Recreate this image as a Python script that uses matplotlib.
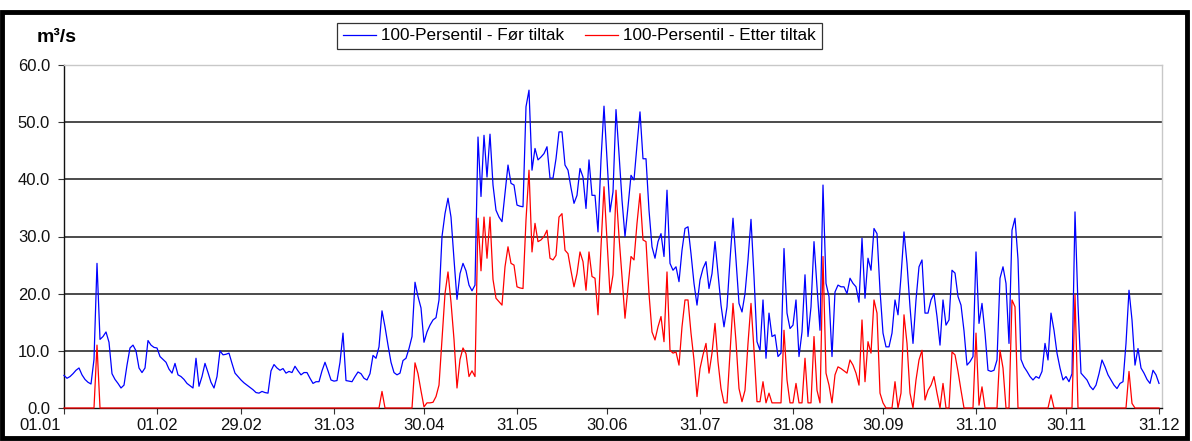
import matplotlib
matplotlib.use("Agg")
import matplotlib.pyplot as plt
from matplotlib.patches import Rectangle
from matplotlib.lines import Line2D
from matplotlib import font_manager
from matplotlib.transforms import ScaledTranslation
import numpy as np

# ---------------- data ----------------
tick_days = [0, 31, 59, 90, 120, 151, 181, 212, 243, 273, 304, 334, 365]
tick_labels = ["01.01", "01.02", "29.02", "31.03", "30.04", "31.05", "30.06",
               "31.07", "31.08", "30.09", "31.10", "30.11", "31.12"]
y_ticks = [0, 10, 20, 30, 40, 50, 60]
series_names = ["100-Persentil - Før tiltak", "100-Persentil - Etter tiltak"]
unit_label = "m³/s"

# daily values (366 days, leap year)
flow_before = [
    5.7, 5.2, 5.5, 6.0, 6.6, 7.0, 5.8, 5.0, 4.5, 4.2,
    8.5, 25.3, 12.0, 12.5, 13.3, 11.5, 6.0, 5.0, 4.3, 3.5,
    4.0, 7.5, 10.5, 11.0, 10.0, 7.0, 6.2, 7.0, 11.8, 11.0,
    10.6, 10.5, 9.0, 8.5, 8.0, 6.8, 6.1, 7.8, 5.8, 5.5,
    5.0, 4.3, 3.9, 3.5, 8.7, 3.8, 5.5, 7.8, 6.2, 4.5,
    3.5, 5.5, 10.0, 9.3, 9.4, 9.6, 7.8, 6.1, 5.5, 4.9,
    4.4, 4.0, 3.6, 3.2, 2.7, 2.6, 2.9, 2.7, 2.6, 6.5,
    7.6, 7.0, 6.6, 6.9, 6.1, 6.4, 6.2, 7.3, 6.5, 5.8,
    6.2, 6.2, 5.2, 4.3, 4.6, 4.6, 6.5, 8.0, 6.5, 4.9,
    4.7, 4.8, 8.0, 13.1, 4.8, 4.7, 4.6, 5.5, 6.3, 6.0,
    5.2, 4.9, 6.0, 9.2, 8.7, 10.7, 17.0, 14.2, 11.0, 8.0,
    6.2, 5.8, 6.1, 8.3, 8.7, 10.4, 12.5, 22.0, 19.5, 17.5,
    11.5, 13.3, 14.5, 15.4, 15.8, 18.9, 30.0, 34.0, 36.7, 33.4,
    26.0, 19.0, 23.5, 25.3, 24.0, 21.5, 20.5, 21.5, 47.4, 37.0,
    47.7, 40.4, 47.9, 39.0, 34.6, 33.4, 32.6, 37.5, 42.5, 39.3,
    39.0, 35.5, 35.3, 35.2, 52.7, 55.6, 41.6, 45.4, 43.4, 43.9,
    44.5, 45.7, 40.2, 40.2, 43.6, 48.3, 48.3, 42.5, 41.6, 38.5,
    35.8, 37.2, 41.9, 40.4, 34.9, 43.4, 37.2, 37.2, 30.8, 43.4,
    52.8, 43.4, 34.3, 37.8, 52.2, 44.5, 36.4, 30.0, 35.2, 40.7,
    39.9, 46.0, 51.8, 43.6, 43.6, 34.6, 28.2, 26.2, 29.1, 30.5,
    26.5, 38.1, 25.3, 24.1, 24.7, 22.1, 27.6, 31.4, 31.7, 27.0,
    21.8, 18.0, 22.4, 24.4, 25.6, 20.9, 23.5, 29.1, 23.5, 18.0,
    14.2, 17.7, 25.9, 33.2, 25.9, 18.3, 16.8, 20.0, 25.9, 33.0,
    23.0, 11.6, 10.1, 18.9, 8.7, 16.6, 12.5, 12.8, 9.0, 9.6,
    27.9, 16.6, 13.9, 14.5, 18.9, 9.0, 13.3, 23.3, 12.5, 17.7,
    29.1, 21.2, 13.6, 39.0, 21.8, 19.5, 9.0, 20.3, 21.5, 21.2,
    21.2, 20.0, 22.7, 21.8, 21.2, 18.5, 29.7, 19.2, 26.2, 24.1,
    31.4, 30.5, 20.6, 13.1, 10.7, 10.7, 13.1, 18.9, 16.3, 23.0,
    30.8, 25.3, 17.7, 11.3, 18.9, 24.7, 25.9, 16.6, 16.6, 18.9,
    20.0, 16.0, 11.0, 18.9, 14.5, 15.4, 24.1, 23.6, 19.5, 18.0,
    13.5, 7.5, 8.1, 9.0, 27.3, 14.8, 18.3, 13.1, 6.6, 6.4,
    6.6, 8.4, 22.7, 24.7, 21.8, 11.3, 31.1, 33.2, 26.0, 8.5,
    7.2, 6.4, 5.5, 4.9, 5.5, 5.2, 6.4, 11.3, 8.4, 16.6,
    13.6, 9.6, 7.0, 4.9, 5.5, 4.6, 6.0, 34.3, 18.0, 6.1,
    5.5, 4.9, 3.8, 3.2, 4.0, 6.0, 8.4, 7.2, 5.8, 4.9,
    4.0, 3.4, 4.3, 4.6, 11.3, 20.6, 15.4, 7.5, 10.4, 7.0,
    6.1, 5.0, 4.3, 6.6, 5.8, 4.3,
]

flow_after = (
    [0.0] * 11 + [11.0] + [0.0] * 94 +                       # days 0-105
    [2.9] + [0.0] * 10 +                                      # 106-116
    [7.9, 6.0, 3.0,
     0.2, 0.9, 0.9, 1.0, 2.0, 4.0, 12.0, 20.0, 23.8, 18.5,
     12.0, 3.5, 8.5, 10.5, 9.5, 5.5, 6.5, 5.5, 33.2, 24.0,
     33.4, 26.2, 33.4, 22.5, 19.2, 18.6, 18.0, 24.7, 28.2, 25.3,
     25.0, 21.2, 21.0, 20.9, 32.9, 41.6, 27.3, 32.3, 29.1, 29.4,
     30.0, 31.1, 26.2, 25.9, 26.7, 33.4, 34.0, 27.6, 27.0, 24.0,
     21.2, 23.5, 27.3, 25.6, 20.6, 27.3, 23.0, 22.7, 16.3, 28.2,
     38.7, 29.4, 20.0, 23.3, 38.1, 30.0, 23.0, 15.7, 21.2, 26.5,
     25.9, 32.3, 37.5, 29.4, 29.1, 20.0, 13.3, 11.9, 14.2, 16.0,
     11.6, 23.8, 10.1, 9.6, 9.8, 7.5, 14.2, 18.9, 18.9, 13.1,
     8.4, 2.0, 6.9, 9.3, 11.3, 6.1, 9.6, 14.8, 8.1, 3.4,
     0.9, 0.9, 9.6, 18.3, 11.6, 3.4, 1.1, 3.1, 11.3, 18.3,
     10.1, 1.1, 1.1, 4.6, 0.9, 2.6, 0.9, 0.9, 0.9, 0.9,
     13.6, 4.9, 0.9, 0.9, 4.3, 0.9, 0.9, 8.7, 0.9, 0.9,
     12.5, 3.1, 0.9, 26.5, 6.1, 4.0, 0.9, 5.8, 7.2, 6.9,
     6.5, 6.1, 8.4, 7.5, 6.1, 4.0, 15.4, 4.6, 11.6, 9.6,
     18.9, 16.6, 2.6, 0.9, 0.0, 0.0, 0.0, 4.6, 0.0, 2.6,
     16.3, 11.3, 2.6, 0.0, 4.9, 8.4, 10.1, 1.4, 3.1, 4.0,
     5.5, 2.6, 0.0, 4.3, 0.0, 0.0, 9.8, 9.3, 6.4, 3.1,
     0.0, 0.0, 0.0, 0.0, 13.1, 0.5, 3.7, 0.0, 0.0, 0.0,
     0.0, 0.0, 10.1, 7.0, 0.0, 0.0, 18.9, 17.7, 0.0, 0.0,
     0.0, 0.0, 0.0, 0.0, 0.0, 0.0, 0.0, 0.0, 0.0, 2.3,
     0.0, 0.0, 0.0, 0.0, 0.0, 0.0, 0.0, 19.8, 0.0, 0.0,
     0.0, 0.0, 0.0, 0.0, 0.0, 0.0, 0.0, 0.0, 0.0, 0.0,
     0.0, 0.0, 0.0, 0.0, 0.0, 6.4, 0.8, 0.0, 0.0, 0.0,
     0.0, 0.0, 0.0, 0.0, 0.0, 0.0]
)

# ---------------- fonts ----------------
available = {f.name for f in font_manager.fontManager.ttflist}
base_font = "Liberation Sans" if "Liberation Sans" in available else "DejaVu Sans"
narrow_font = "Liberation Sans Narrow" if "Liberation Sans Narrow" in available else base_font
plt.rcParams["font.family"] = [base_font, "DejaVu Sans"]

# ---------------- figure ----------------
W, H = 1192, 441
fig = plt.figure(figsize=(W / 100, H / 100), dpi=100)
fig.patch.set_facecolor("white")

def fx(px):
    return px / W

def fy(py):
    return 1 - py / H

left, right, top, bottom = 64, 1162, 65, 408
ax = fig.add_axes([fx(left), fy(bottom), fx(right - left), (bottom - top) / H])

days = np.arange(len(flow_before))
ax.plot(days, flow_before, color="#0000FF", lw=0.9, zorder=3, clip_on=False)
ax.plot(days, flow_after, color="#FF0000", lw=0.9, zorder=4, clip_on=False)

ax.set_xlim(0, 366)
ax.set_ylim(0, 60)

for yv in y_ticks[1:-1]:
    ax.axhline(yv, color="#1a1a1a", lw=1.1, zorder=1)

ax.set_yticks(y_ticks)
ax.set_yticklabels([f"{v:.1f}" for v in y_ticks], fontsize=12)
ax.set_xticks(tick_days)
ax.set_xticklabels(tick_labels, fontsize=12)
ax.tick_params(axis="both", direction="out", length=4, width=0.8, color="#333333",
               labelcolor="#111111")
ax.tick_params(axis="y", pad=6)
ax.tick_params(axis="x", pad=3)

# first date label sits shifted left (as in the original)
first = ax.get_xticklabels()[0]
first.set_transform(first.get_transform() + ScaledTranslation(-24 / 100, 0, fig.dpi_scale_trans))

for s in ["top", "right"]:
    ax.spines[s].set_color("#c8c8c8")
    ax.spines[s].set_linewidth(1.0)
ax.spines["left"].set_color("#111111")
ax.spines["bottom"].set_color("#111111")
ax.spines["left"].set_linewidth(1.0)
ax.spines["bottom"].set_linewidth(1.0)

# unit label
fig.text(fx(37), fy(37), unit_label, fontsize=14, ha="left", va="center",
         fontweight="bold", family=[narrow_font, "DejaVu Sans"])

# legend
handles = [Line2D([0], [0], color="#0000FF", lw=0.9),
           Line2D([0], [0], color="#FF0000", lw=0.9)]
leg = fig.legend(handles, series_names, loc="center",
                 bbox_to_anchor=(fx((337 + 822) / 2), fy(36)),
                 ncol=2, frameon=True, fancybox=False,
                 handlelength=1.9, handletextpad=0.3, columnspacing=1.25,
                 borderpad=0.35, prop={"family": [narrow_font, "DejaVu Sans"], "size": 12.3})
leg.get_frame().set_edgecolor("black")
leg.get_frame().set_linewidth(0.9)

# outer black frame
fig.add_artist(Rectangle((fx(2), fy(438)), fx(1185), (438 - 12) / H,
                         transform=fig.transFigure, fill=False,
                         edgecolor="black", lw=3.5, zorder=10))

fig.savefig("out.png", dpi=100, facecolor="white")
